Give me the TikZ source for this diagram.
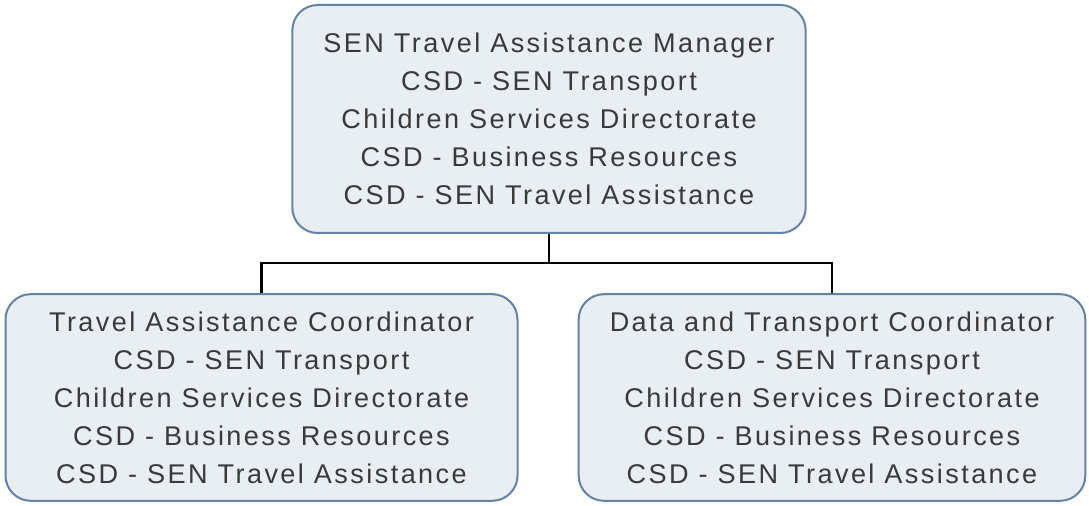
\documentclass[tikz,border=0pt]{standalone}
\usepackage{fontspec}
\setmainfont[LetterSpace=9]{Liberation Sans}
\usepackage{tikz}

\definecolor{boxfill}{HTML}{E9EEF2}
\definecolor{boxline}{HTML}{6382A6}
\definecolor{boxtext}{HTML}{3A3A3A}

\begin{document}
\begin{tikzpicture}[x=0.75pt,y=-0.75pt,
  post/.style={draw=boxline,fill=boxfill,line width=1.5pt,rounded corners=19pt,
    align=center,text=boxtext,font=\fontsize{20.3}{28.5}\selectfont,inner sep=0pt},
  link/.style={line width=2pt}]
\useasboundingbox (0,0) rectangle (1089,506);
\node[post,minimum width=385pt,minimum height=171pt] (mgr) at (549,119)
  {SEN Travel Assistance Manager\\CSD - SEN Transport\\Children Services Directorate\\CSD - Business Resources\\CSD - SEN Travel Assistance};
\node[post,minimum width=384pt,minimum height=155pt] (tac) at (261.5,397.5)
  {Travel Assistance Coordinator\\CSD - SEN Transport\\Children Services Directorate\\CSD - Business Resources\\CSD - SEN Travel Assistance};
\node[post,minimum width=380pt,minimum height=155pt] (dtc) at (832,397.5)
  {Data and Transport Coordinator\\CSD - SEN Transport\\Children Services Directorate\\CSD - Business Resources\\CSD - SEN Travel Assistance};
\coordinate (bus) at (549,263);
\draw[link] (mgr.south) -- (bus);
\draw[link] (tac.north) |- (bus) -| (dtc.north);
\end{tikzpicture}
\end{document}
